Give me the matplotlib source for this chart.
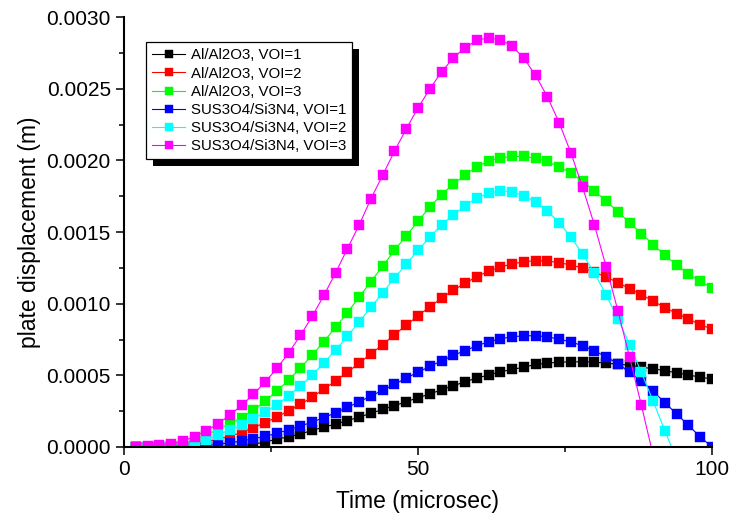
import numpy as np
import matplotlib
matplotlib.use("Agg")
import matplotlib.pyplot as plt
from matplotlib.patches import Rectangle
from matplotlib.ticker import MultipleLocator, FormatStrFormatter

plt.rcParams['font.family'] = ['Liberation Sans', 'DejaVu Sans']

time = list(range(2, 101, 2))

al_voi1 = [0, 0, 0, 0, 0.000001, 0.000001, 0.000002, 0.000003, 0.000006, 0.000010,
           0.000020, 0.000035, 0.000054, 0.000072, 0.000091, 0.000116, 0.000139, 0.000160, 0.000184, 0.000209,
           0.000235, 0.000263, 0.000288, 0.000316, 0.000344, 0.000369, 0.000400, 0.000427, 0.000455, 0.000481,
           0.000502, 0.000525, 0.000541, 0.000557, 0.000576, 0.000585, 0.000592, 0.000594, 0.000594, 0.000592,
           0.000585, 0.000578, 0.000571, 0.000557, 0.000546, 0.000532, 0.000518, 0.000502, 0.000488, 0.000474]

al_voi2 = [0, 0, 0.000001, 0.000004, 0.000010, 0.000020, 0.000036, 0.000055, 0.000077, 0.000100,
           0.000135, 0.000170, 0.000209, 0.000253, 0.000297, 0.000348, 0.000404, 0.000462, 0.000522, 0.000585,
           0.000650, 0.000715, 0.000783, 0.000850, 0.000915, 0.000978, 0.001038, 0.001094, 0.001142, 0.001189,
           0.001226, 0.001256, 0.001277, 0.001293, 0.001300, 0.001298, 0.001286, 0.001270, 0.001249, 0.001219,
           0.001186, 0.001147, 0.001105, 0.001063, 0.001017, 0.000973, 0.000931, 0.000892, 0.000854, 0.000822]

al_voi3 = [0, 0.000001, 0.000004, 0.000012, 0.000027, 0.000050, 0.000085, 0.000123, 0.000163, 0.000205,
           0.000256, 0.000321, 0.000390, 0.000467, 0.000550, 0.000641, 0.000736, 0.000836, 0.000938, 0.001047,
           0.001154, 0.001263, 0.001372, 0.001474, 0.001574, 0.001674, 0.001760, 0.001834, 0.001897, 0.001955,
           0.001994, 0.002017, 0.002027, 0.002027, 0.002015, 0.001992, 0.001955, 0.001911, 0.001853, 0.001788,
           0.001716, 0.001641, 0.001565, 0.001488, 0.001412, 0.001337, 0.001270, 0.001207, 0.001156, 0.001110]

sus_voi1 = [0, 0, 0, 0.000001, 0.000002, 0.000005, 0.000010, 0.000019, 0.000030, 0.000042,
            0.000058, 0.000075, 0.000095, 0.000121, 0.000146, 0.000174, 0.000205, 0.000239, 0.000276, 0.000316,
            0.000355, 0.000397, 0.000437, 0.000481, 0.000522, 0.000562, 0.000601, 0.000639, 0.000673, 0.000706,
            0.000734, 0.000755, 0.000769, 0.000776, 0.000776, 0.000769, 0.000752, 0.000734, 0.000706, 0.000671,
            0.000629, 0.000581, 0.000522, 0.000460, 0.000388, 0.000309, 0.000230, 0.000151, 0.000070, 0.000000]

sus_voi2 = [0, 0, 0, 0.000001, 0.000006, 0.000022, 0.000052, 0.000086, 0.000119, 0.000156,
            0.000198, 0.000244, 0.000295, 0.000358, 0.000425, 0.000502, 0.000588, 0.000676, 0.000773, 0.000873,
            0.000975, 0.001077, 0.001179, 0.001275, 0.001372, 0.001463, 0.001549, 0.001620, 0.001683, 0.001737,
            0.001769, 0.001788, 0.001781, 0.001753, 0.001709, 0.001648, 0.001565, 0.001465, 0.001347, 0.001214,
            0.001061, 0.000894, 0.000713, 0.000520, 0.000318, 0.000112, -0.000090]

sus_voi3 = [0.000002, 0.000005, 0.000012, 0.000024, 0.000042, 0.000072, 0.000114, 0.000163, 0.000223, 0.000290,
            0.000367, 0.000453, 0.000548, 0.000657, 0.000778, 0.000912, 0.001058, 0.001217, 0.001384, 0.001550,
            0.001732, 0.001897, 0.002064, 0.002219, 0.002366, 0.002498, 0.002616, 0.002714, 0.002786, 0.002837,
            0.002855, 0.002841, 0.002797, 0.002712, 0.002593, 0.002444, 0.002263, 0.002052, 0.001811, 0.001549,
            0.001258, 0.000950, 0.000625, 0.000290, -0.000060]

series = [
    ("Al/Al2O3, VOI=1", al_voi1, "#000000"),
    ("Al/Al2O3, VOI=2", al_voi2, "#ff0000"),
    ("Al/Al2O3, VOI=3", al_voi3, "#00ff00"),
    ("SUS3O4/Si3N4, VOI=1", sus_voi1, "#0000ff"),
    ("SUS3O4/Si3N4, VOI=2", sus_voi2, "#00ffff"),
    ("SUS3O4/Si3N4, VOI=3", sus_voi3, "#ff00ff"),
]

x_ticks = [0, 50, 100]
x_tick_labels = ["0", "50", "100"]

fig = plt.figure(figsize=(7.29, 5.24), dpi=100)
ax = fig.add_axes([124/729, 1 - 447/524, 588/729, 430/524])

for label, vals, col in series:
    ax.plot(time[:len(vals)], vals, color=col, lw=0.8, marker='s', ms=6.6,
            mfc=col, mec=col, mew=0.3, label=label)

ax.set_xlim(0, 100)
ax.set_ylim(0, 0.003)
ax.set_xticks(x_ticks)
ax.set_xticklabels(x_tick_labels)
ax.xaxis.set_minor_locator(MultipleLocator(25))
ax.yaxis.set_major_locator(MultipleLocator(0.0005))
ax.yaxis.set_minor_locator(MultipleLocator(0.00025))
ax.yaxis.set_major_formatter(FormatStrFormatter('%.4f'))

for s in ['top', 'right']:
    ax.spines[s].set_visible(False)
for s in ['left', 'bottom']:
    ax.spines[s].set_linewidth(1.5)
    ax.spines[s].set_zorder(10)

ax.tick_params(which='major', direction='out', length=5.5, width=1.1, labelsize=15, pad=4)
ax.tick_params(which='minor', direction='out', length=3.5, width=1.1)

ax.set_xlabel("Time (microsec)", fontsize=16.5, labelpad=8)
ax.set_ylabel("plate displacement (m)", fontsize=16.5, labelpad=4)

leg = ax.legend(loc='upper left', bbox_to_anchor=(0.038, 0.941), borderaxespad=0,
                fontsize=10.8, frameon=True, fancybox=False, edgecolor='black',
                framealpha=1, handlelength=2.2, handletextpad=0.35, labelspacing=0.28,
                borderpad=0.4, markerscale=0.85)
leg.get_frame().set_linewidth(0.9)
leg.set_zorder(20)

fig.canvas.draw()
bb = leg.get_window_extent()
shadow = Rectangle((bb.x0 + 7, bb.y0 - 7), bb.width, bb.height, transform=None,
                   facecolor='black', edgecolor='none', zorder=19)
ax.add_artist(shadow)

fig.savefig("out.png", dpi=100)
